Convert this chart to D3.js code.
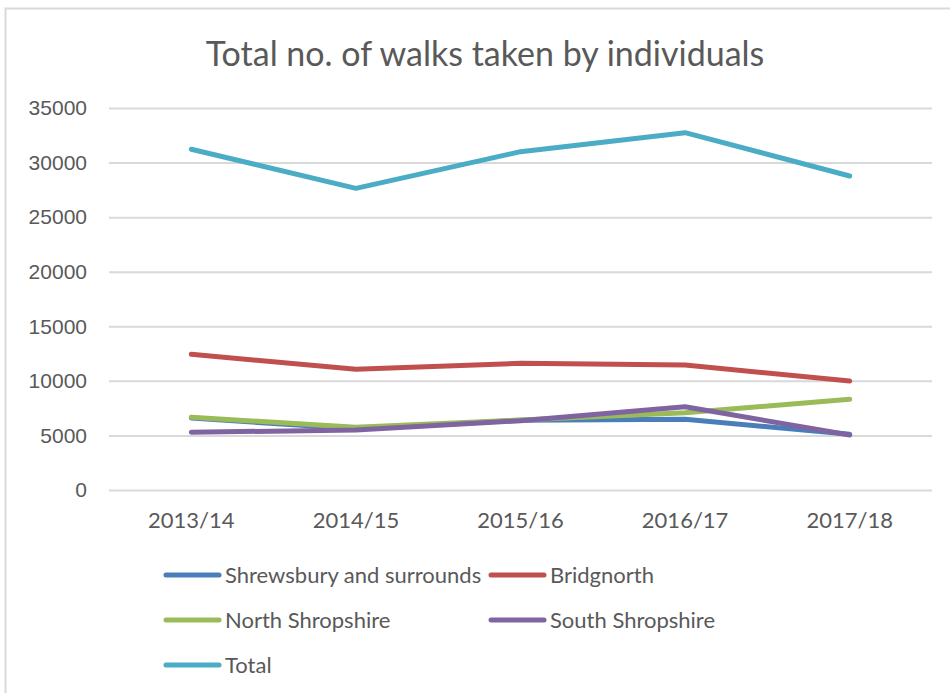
<!DOCTYPE html>
<html>
<head>
<meta charset="utf-8">
<script src="https://cdn.jsdelivr.net/npm/d3@7"></script>
<style>
  body { margin: 0; background: #fff; }
  text { font-family: Lato, "Open Sans", sans-serif; fill: #595959; }
</style>
</head>
<body>
<div id="chart"></div>
<script>
// data
const years = ["2013/14", "2014/15", "2015/16", "2016/17", "2017/18"];
const shrewsbury = [6600, 5600, 6400, 6480, 5100];
const bridgnorth = [12430, 11060, 11610, 11450, 9990];
const northShropshire = [6660, 5750, 6420, 7080, 8310];
const southShropshire = [5290, 5500, 6350, 7630, 5040];
const total = [31220, 27640, 31000, 32740, 28770];
const yTicks = [0, 5000, 10000, 15000, 20000, 25000, 30000, 35000];

const series = [
  { name: "Shrewsbury and surrounds", values: shrewsbury, color: "#4a7ebb" },
  { name: "Bridgnorth", values: bridgnorth, color: "#c0504d" },
  { name: "North Shropshire", values: northShropshire, color: "#9bbb59" },
  { name: "South Shropshire", values: southShropshire, color: "#8064a2" },
  { name: "Total", values: total, color: "#4bacc6" }
];

const W = 950, H = 693;
const margin = { top: 108, right: 18, bottom: 203, left: 109 };
const width = W - margin.left - margin.right,
  height = H - margin.top - margin.bottom;

const svg = d3.select("#chart").append("svg")
  .attr("width", W).attr("height", H);

// outer chart border
svg.append("rect")
  .attr("x", 5.5).attr("y", 8.5)
  .attr("width", W + 20).attr("height", H + 20)
  .attr("fill", "none").attr("stroke", "#d9d9d9").attr("stroke-width", 2);

svg.append("text")
  .attr("x", 485).attr("y", 66)
  .attr("text-anchor", "middle")
  .attr("font-size", 34)
  .text("Total no. of walks taken by individuals");

const g = svg.append("g")
  .attr("transform", "translate(" + margin.left + "," + margin.top + ")");

const x = d3.scaleBand().domain(years).range([0, width]);
const y = d3.scaleLinear().domain([0, 35000]).range([height, 0]);

// gridlines + y labels
const yAxis = d3.axisLeft(y).tickValues(yTicks).tickFormat(d3.format("d"))
  .tickSize(-width).tickPadding(22);
g.append("g").call(yAxis)
  .call(s => s.select(".domain").remove())
  .call(s => s.selectAll("line").attr("stroke", "#d9d9d9").attr("stroke-width", 2))
  .call(s => s.selectAll("text").attr("font-size", 21).style("font-family", "'Liberation Sans', Arial, sans-serif").attr("fill", "#595959"));

const xAxis = d3.axisBottom(x).tickSize(0).tickPadding(22);
g.append("g").attr("transform", "translate(0," + height + ")").call(xAxis)
  .call(s => s.select(".domain").remove())
  .call(s => s.selectAll("text").attr("font-size", 22).attr("fill", "#595959").style("font-family", "Lato, sans-serif"));

const line = d3.line()
  .x((d, i) => x(years[i]) + x.bandwidth() / 2)
  .y(d => y(d));

g.selectAll(".series").data(series).enter()
  .append("path")
  .attr("class", "series")
  .attr("d", d => line(d.values))
  .attr("fill", "none")
  .attr("stroke", d => d.color)
  .attr("stroke-width", 5)
  .attr("stroke-linecap", "round")
  .attr("stroke-linejoin", "round");

// legend
const legendPos = [[166, 575], [491, 575], [166, 620], [491, 620], [166, 665]];
const leg = svg.selectAll(".leg").data(series).enter()
  .append("g").attr("class", "leg")
  .attr("transform", (d, i) => "translate(" + legendPos[i][0] + "," + legendPos[i][1] + ")");
leg.append("line")
  .attr("x1", 0).attr("x2", 53).attr("y1", 0).attr("y2", 0)
  .attr("stroke", d => d.color).attr("stroke-width", 5)
  .attr("stroke-linecap", "round");
leg.append("text")
  .attr("x", 59).attr("y", 0).attr("dy", "0.35em")
  .attr("font-size", 22)
  .text(d => d.name);
</script>
</body>
</html>
